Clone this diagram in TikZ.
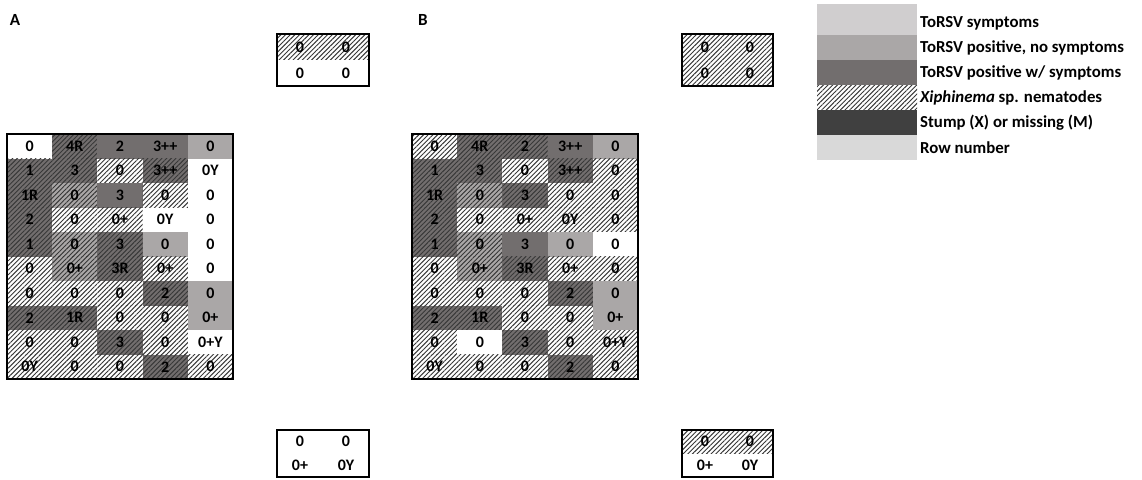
\documentclass[tikz,border=0pt]{standalone}
\usepackage{fontspec}
\setmainfont{Carlito}
\usetikzlibrary{patterns.meta}
\definecolor{symc}{HTML}{D0CECF}
\definecolor{posc}{HTML}{AAA7A7}
\definecolor{wsc}{HTML}{726E6E}
\definecolor{stc}{HTML}{404040}
\definecolor{rowc}{HTML}{D9D9D9}
\definecolor{hatchc}{HTML}{383838}
\tikzset{
  txt/.style={font=\fontsize{16}{18}\selectfont\bfseries},
  cell/.style={txt, inner sep=0pt, minimum width=45.2pt, minimum height=24.5pt, anchor=center},
  cW/.style={fill=white}, cL/.style={fill=posc}, cD/.style={fill=wsc},
  hat/.style={postaction={pattern={Lines[angle=45,distance=3.3pt,line width=0.95pt]}, pattern color=hatchc}},
  cHW/.style={cW,hat}, cHL/.style={cL,hat}, cHD/.style={cD,hat},
  frame/.style={draw=black, line width=2pt},
  leg/.style={inner sep=0pt, minimum width=100pt, anchor=north west},
  legtxt/.style={font=\fontsize{16.8}{19}\selectfont\bfseries, inner sep=0pt, anchor=west},
  panel/.style={font=\fontsize{17}{19}\selectfont\bfseries, anchor=center},
}
\newcommand\gridrow[5]{%
  \foreach \s/\t [count=\c] in {#5} {\node[cell,\s] (#1-#4-\c) at ({#2+(\c-0.5)*45.2},{#3+(#4-0.5)*24.5}) {\t};}}
\begin{document}
\begin{tikzpicture}[x=1pt,y=-1pt]
\path[use as bounding box] (0,0) rectangle (1142,479);

\node[panel] (labA) at (15,20) {A};
\node[panel] (labB) at (423,20) {B};

% ---------- Grid A ----------
\gridrow{a}{7}{134}{1}{cW/0, cHD/4R, cD/2, cD/3++, cL/0}
\gridrow{a}{7}{134}{2}{cHD/1, cHD/3, cHW/0, cHD/3++, cW/0Y}
\gridrow{a}{7}{134}{3}{cHD/1R, cHL/0, cD/3, cHW/0, cW/0}
\gridrow{a}{7}{134}{4}{cHD/2, cHW/0, cHW/0+, cW/0Y, cW/0}
\gridrow{a}{7}{134}{5}{cHD/1, cHL/0, cHD/3, cL/0, cW/0}
\gridrow{a}{7}{134}{6}{cHW/0, cHL/0+, cHD/3R, cHW/0+, cW/0}
\gridrow{a}{7}{134}{7}{cHW/0, cHW/0, cHW/0, cHD/2, cL/0}
\gridrow{a}{7}{134}{8}{cHD/2, cHD/1R, cHW/0, cHW/0, cL/0+}
\gridrow{a}{7}{134}{9}{cHW/0, cHW/0, cHD/3, cHW/0, cW/0+Y}
\gridrow{a}{7}{134}{10}{cHW/0Y, cHW/0, cHW/0, cHD/2, cHW/0}
\draw[frame] (a-1-1.north west) rectangle (a-10-5.south east);

% ---------- Grid B ----------
\gridrow{b}{412}{134}{1}{cHW/0, cHD/4R, cHD/2, cD/3++, cL/0}
\gridrow{b}{412}{134}{2}{cHD/1, cHD/3, cHW/0, cHD/3++, cHW/0}
\gridrow{b}{412}{134}{3}{cHD/1R, cHL/0, cHD/3, cHW/0, cHW/0}
\gridrow{b}{412}{134}{4}{cHD/2, cHW/0, cHW/0+, cHW/0Y, cHW/0}
\gridrow{b}{412}{134}{5}{cHD/1, cHL/0, cD/3, cL/0, cW/0}
\gridrow{b}{412}{134}{6}{cHW/0, cHL/0+, cHD/3R, cHW/0+, cHW/0}
\gridrow{b}{412}{134}{7}{cHW/0, cHW/0, cHW/0, cHD/2, cL/0}
\gridrow{b}{412}{134}{8}{cHD/2, cHD/1R, cHW/0, cHW/0, cL/0+}
\gridrow{b}{412}{134}{9}{cHW/0, cW/0, cHD/3, cHW/0, cHW/0+Y}
\gridrow{b}{412}{134}{10}{cHW/0Y, cHW/0, cHW/0, cHD/2, cHW/0}
\draw[frame] (b-1-1.north west) rectangle (b-10-5.south east);

% ---------- small boxes ----------
\tikzset{sm/.style={cell, minimum width=46pt, minimum height=26pt},
         smb/.style={cell, minimum width=46pt, minimum height=23.5pt}}
\node[sm,cHW] (ta11) at (300,47) {0};
\node[sm,cHW] (ta12) at (346,47) {0};
\node[sm,cW]  (ta21) at (300,73) {0};
\node[sm,cW]  (ta22) at (346,73) {0};
\draw[frame] (ta11.north west) rectangle (ta22.south east);

\node[sm,cHW] (tb11) at (705,47) {0};
\node[sm,cHW] (tb12) at (750,47) {0};
\node[sm,cHW] (tb21) at (705,73) {0};
\node[sm,cHW] (tb22) at (750,73) {0};
\draw[frame] (tb11.north west) rectangle (tb22.south east);

\node[smb,cW] (ba11) at (300,441.75) {0};
\node[smb,cW] (ba12) at (346,441.75) {0};
\node[smb,cW] (ba21) at (300,465.25) {0+};
\node[smb,cW] (ba22) at (346,465.25) {0Y};
\draw[frame] (ba11.north west) rectangle (ba22.south east);

\node[smb,cHW] (bb11) at (705,441.75) {0};
\node[smb,cHW] (bb12) at (750,441.75) {0};
\node[smb,cW]  (bb21) at (705,465.25) {0+};
\node[smb,cW]  (bb22) at (750,465.25) {0Y};
\draw[frame] (bb11.north west) rectangle (bb22.south east);

% ---------- legend ----------
\node[leg, fill=symc, minimum height=31pt] (l1) at (817,4) {};
\node[leg, fill=posc, minimum height=25pt] (l2) at (817,35) {};
\node[leg, fill=wsc,  minimum height=25pt] (l3) at (817,60) {};
\node[leg, fill=white, hat, minimum height=25pt] (l4) at (817,85) {};
\node[leg, fill=stc,  minimum height=25pt] (l5) at (817,110) {};
\node[leg, fill=rowc, minimum height=25pt] (l6) at (817,135) {};
\node[legtxt] (t1) at (920,23) {ToRSV symptoms};
\node[legtxt] (t2) at (920,47.5) {ToRSV positive, no symptoms};
\node[legtxt] (t3) at (920,72.5) {ToRSV positive w/ symptoms};
\node[legtxt] (t4) at (920,97.5) {\textit{Xiphinema} sp. nematodes};
\node[legtxt] (t5) at (920,122.5) {Stump (X) or missing (M)};
\node[legtxt] (t6) at (920,147.5) {Row number};
\end{tikzpicture}
\end{document}
